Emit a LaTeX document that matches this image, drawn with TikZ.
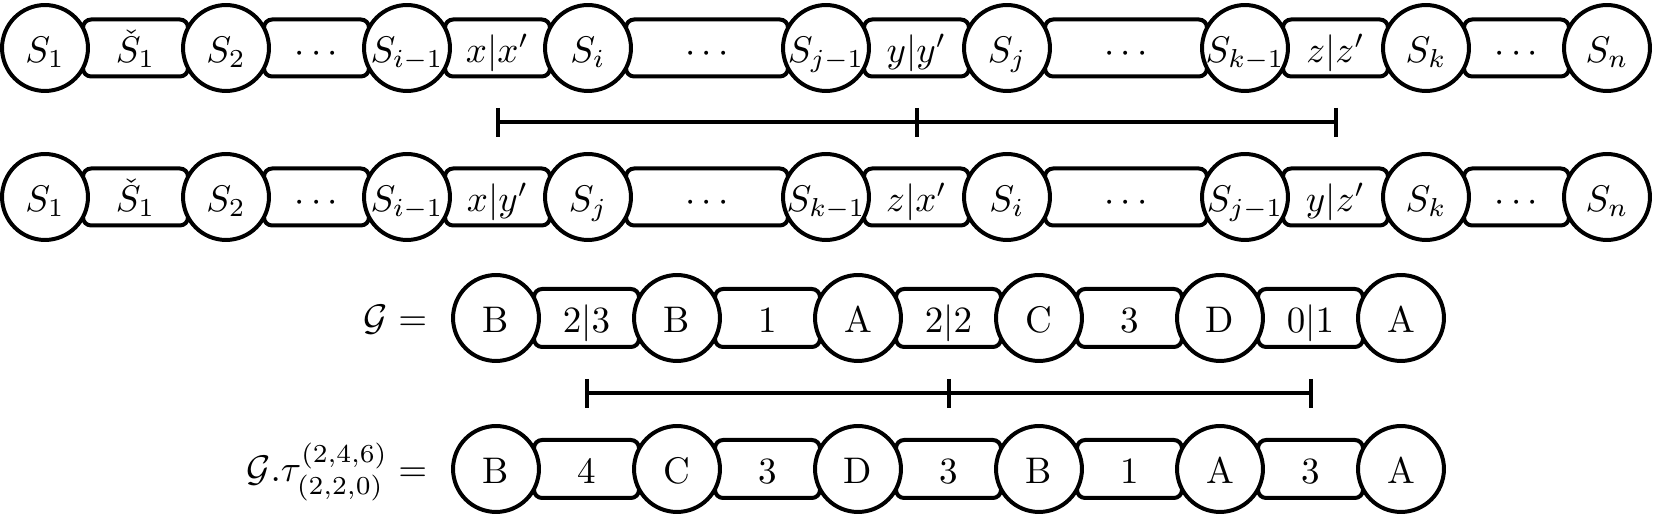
\documentclass[tikz,border=0pt]{standalone}
\usetikzlibrary{calc,backgrounds}
\begin{document}
\begin{tikzpicture}[x=0.27pt,y=-0.27pt,
  state/.style={circle,draw,fill=white,line width=1.08pt,minimum size=23.2pt,inner sep=0pt,text height=7.8pt,text depth=0pt},
  lbl/.style={inner sep=0pt,text height=7.8pt,text depth=0pt},
  band/.style={draw,line width=1.08pt,rounded corners=2.2pt},
  bar/.style={line width=1.08pt}]
\useasboundingbox (0,0) rectangle (1656,516);

% ---- top row ----
\foreach \n/\x/\t in {1/45/S_1, 2/226/S_2, 3/407/S_{i-1}, 4/588/S_i, 5/826/S_{j-1}, 6/1007/S_j, 7/1245/S_{k-1}, 8/1426/S_k, 9/1607/S_n}
  \node[state] (t\n) at (\x,48) {$\t$};
\foreach \a/\b/\t in {1/2/\check{S}_1, 2/3/\cdots, 3/4/x|x', 4/5/\cdots, 5/6/y|y', 6/7/\cdots, 7/8/z|z', 8/9/\cdots}
{
  \node[lbl] (te\a) at ($(t\a)!0.5!(t\b)$) {$\t$};
  \begin{scope}[on background layer]
    \draw[band] ($(t\a.center)+(38,-28.5)$) rectangle ($(t\b.center)+(-38,28.5)$);
  \end{scope}
}

% ---- second row ----
\foreach \n/\x/\t in {1/45/S_1, 2/226/S_2, 3/407/S_{i-1}, 4/588/S_j, 5/826/S_{k-1}, 6/1007/S_i, 7/1245/S_{j-1}, 8/1426/S_k, 9/1607/S_n}
  \node[state] (u\n) at (\x,197) {$\t$};
\foreach \a/\b/\t in {1/2/\check{S}_1, 2/3/\cdots, 3/4/x|y', 4/5/\cdots, 5/6/z|x', 6/7/\cdots, 7/8/y|z', 8/9/\cdots}
{
  \node[lbl] (ue\a) at ($(u\a)!0.5!(u\b)$) {$\t$};
  \begin{scope}[on background layer]
    \draw[band] ($(u\a.center)+(38,-28.5)$) rectangle ($(u\b.center)+(-38,28.5)$);
  \end{scope}
}

% ---- top bracket ----
\coordinate (k1) at ($(te3)!0.5!(ue3)$);
\coordinate (k2) at ($(te5)!0.5!(ue5)$);
\coordinate (k3) at ($(te7)!0.5!(ue7)$);
\draw[bar] (k1) -- (k3);
\foreach \k in {k1,k2,k3}
  \draw[bar] ($(\k)+(0,-14.5)$) -- ($(\k)+(0,14.5)$);

% ---- G row ----
\foreach \n/\x/\t in {1/496/B, 2/677/B, 3/858/A, 4/1039/C, 5/1220/D, 6/1401/A}
  \node[state] (g\n) at (\x,318) {\t};
\foreach \a/\b/\t in {1/2/2|3, 2/3/1, 3/4/2|2, 4/5/3, 5/6/0|1}
{
  \node[lbl] (ge\a) at ($(g\a)!0.5!(g\b)$) {$\t$};
  \begin{scope}[on background layer]
    \draw[band] ($(g\a.center)+(38,-29)$) rectangle ($(g\b.center)+(-38,29)$);
  \end{scope}
}

% ---- tau row ----
\foreach \n/\x/\t in {1/496/B, 2/677/C, 3/858/D, 4/1039/B, 5/1220/A, 6/1401/A}
  \node[state] (h\n) at (\x,469) {\t};
\foreach \a/\b/\t in {1/2/4, 2/3/3, 3/4/3, 4/5/1, 5/6/3}
{
  \node[lbl] (he\a) at ($(h\a)!0.5!(h\b)$) {$\t$};
  \begin{scope}[on background layer]
    \draw[band] ($(h\a.center)+(38,-29)$) rectangle ($(h\b.center)+(-38,29)$);
  \end{scope}
}

% ---- bottom bracket ----
\coordinate (m1) at ($(ge1)!0.5!(he1)$);
\coordinate (m2) at ($(ge3)!0.5!(he3)$);
\coordinate (m3) at ($(ge5)!0.5!(he5)$);
\draw[bar] (m1) -- (m3);
\foreach \k in {m1,m2,m3}
  \draw[bar] ($(\k)+(0,-14.5)$) -- ($(\k)+(0,14.5)$);

% ---- left labels ----
\node[anchor=base east,inner sep=0pt] (glab) at (428,331) {$\mathcal{G} =$};
\node[anchor=base east,inner sep=0pt] (hlab) at (428,482) {$\mathcal{G}.\tau^{(2,4,6)}_{(2,2,0)} =$};
\end{tikzpicture}
\end{document}
